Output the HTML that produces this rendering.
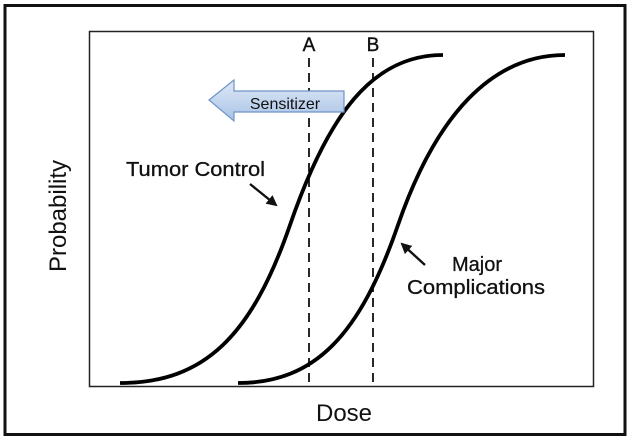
<!DOCTYPE html>
<html><head><style>
html,body{margin:0;padding:0;background:#fff;}
svg{display:block;}
text{font-family:"Liberation Sans",Arial,sans-serif;fill:#111;}
</style></head><body>
<svg width="628" height="438" viewBox="0 0 628 438">
<defs>
<linearGradient id="g" x1="0" y1="0" x2="0" y2="1">
<stop offset="0" stop-color="#dfe9f7"/><stop offset="1" stop-color="#a9c3e6"/>
</linearGradient>
<marker id="ah" markerWidth="11" markerHeight="11" refX="9" refY="5.5" orient="auto" markerUnits="userSpaceOnUse">
<path d="M0,0 L11,5.5 L0,11 z" fill="#111"/>
</marker>
</defs>
<rect x="5" y="5.5" width="620" height="429" fill="#fff" stroke="#111" stroke-width="3"/>
<rect x="89.5" y="31.5" width="504" height="355" fill="none" stroke="#222" stroke-width="1.5"/>
<line x1="309" y1="58" x2="309" y2="386" stroke="#111" stroke-width="1.8" stroke-dasharray="9,6"/>
<line x1="373" y1="58" x2="373" y2="386" stroke="#111" stroke-width="1.8" stroke-dasharray="9,6"/>
<text x="309" y="51" font-size="19" text-anchor="middle" stroke="#111" stroke-width="0.4">A</text>
<text x="373" y="51" font-size="19" text-anchor="middle" stroke="#111" stroke-width="0.4">B</text>
<path d="M120,383 C205,383 252,335 290,225 S372,55 443,55" fill="none" stroke="#000" stroke-width="3.8"/>
<path d="M238,383 C315,383 360,335 398,225 S492,55 565,55" fill="none" stroke="#000" stroke-width="3.8"/>
<path d="M209,100 L234,80 L234,91 L344,91 L344,112 L234,112 L234,121 Z" fill="url(#g)" stroke="#6f93c9" stroke-width="1.2"/>
<text x="285" y="109" font-size="16" text-anchor="middle">Sensitizer</text>
<text x="126" y="176" font-size="20" textLength="139" lengthAdjust="spacingAndGlyphs" stroke="#111" stroke-width="0.3">Tumor Control</text>
<line x1="250" y1="184" x2="276" y2="205" stroke="#111" stroke-width="2.4" marker-end="url(#ah)"/>
<text x="477" y="271" font-size="20" text-anchor="middle" stroke="#111" stroke-width="0.3">Major</text>
<text x="476" y="294" font-size="20" text-anchor="middle" textLength="138" lengthAdjust="spacingAndGlyphs" stroke="#111" stroke-width="0.3">Complications</text>
<line x1="425" y1="265" x2="402" y2="244" stroke="#111" stroke-width="2.4" marker-end="url(#ah)"/>
<text x="344" y="421" font-size="24" text-anchor="middle">Dose</text>
<text transform="translate(66,216) rotate(-90)" font-size="24" text-anchor="middle">Probability</text>
</svg>
</body></html>
